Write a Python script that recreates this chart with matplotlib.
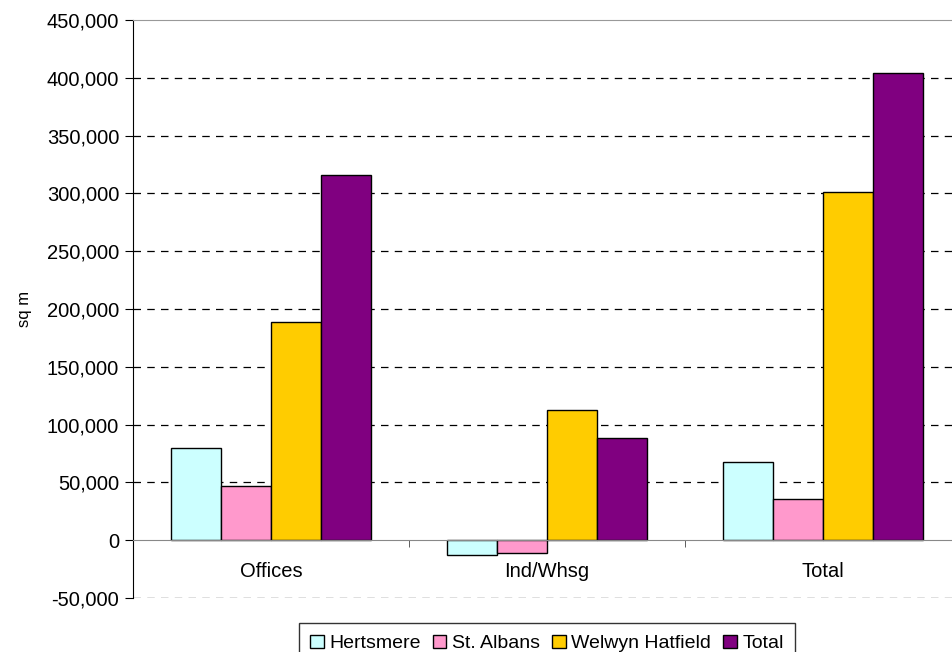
import matplotlib
matplotlib.use("Agg")
import matplotlib.pyplot as plt
import matplotlib.ticker as mticker
import numpy as np

plt.rcParams['font.family'] = ['Liberation Sans', 'DejaVu Sans']

categories = ['Offices', 'Ind/Whsg', 'Total']
series = ['Hertsmere', 'St. Albans', 'Welwyn Hatfield', 'Total']
hertsmere = [80000, -13000, 67500]
st_albans = [46500, -11000, 36000]
welwyn = [188500, 112300, 301000]
total = [315500, 88500, 404000]
colors = ['#CCFFFF', '#FF99CC', '#FFCC00', '#800080']

values = [hertsmere, st_albans, welwyn, total]

fig = plt.figure(figsize=(9.53, 6.52), dpi=100)
# plot area runs a little past the right edge of the picture
ax = fig.add_axes([133 / 953, 1 - 598 / 652, 828 / 953, 578 / 652])

x = np.arange(len(categories))
width = 0.182
for i, (vals, name, col) in enumerate(zip(values, series, colors)):
    ax.bar(x + (i - 1.5) * width, vals, width, color=col, edgecolor='black',
           linewidth=1.0, label=name, zorder=3)

ax.set_xlim(-0.5, 2.5)
ax.set_ylim(-50000, 450000)
ax.yaxis.set_major_locator(mticker.MultipleLocator(50000))
ax.yaxis.set_major_formatter(mticker.FuncFormatter(lambda v, p: '{:,.0f}'.format(v)))

# dashed gridlines, except at zero and top
for v in range(-50000, 450000, 50000):
    if v == 0:
        continue
    ax.axhline(v, color='black', linestyle=(0, (6, 5)), linewidth=0.9, zorder=1)

ax.spines['right'].set_visible(False)
ax.spines['top'].set_color('#999999')
ax.spines['left'].set_color('black')
ax.spines['bottom'].set_position(('data', 0))
ax.spines['bottom'].set_color('#888888')
ax.spines['bottom'].set_zorder(4)

ax.set_xticks(x)
ax.set_xticklabels(categories)
ax.xaxis.set_minor_locator(mticker.FixedLocator([0.5, 1.5]))
ax.tick_params(axis='x', which='major', length=0, pad=16, labelsize=14.5)
ax.tick_params(axis='x', which='minor', length=5, direction='out', color='#444444')
ax.tick_params(axis='y', length=6, direction='out', labelsize=14.5, pad=4)

ax.set_ylabel('sq m', fontsize=12)
ax.yaxis.set_label_coords(-0.122, 0.5)

leg = fig.legend(loc='upper center', bbox_to_anchor=(0.574, 1 - 623 / 652), ncol=4,
                 fontsize=14, frameon=True, fancybox=False, edgecolor='black',
                 handlelength=0.7, handleheight=0.7, handletextpad=0.3,
                 columnspacing=0.6, borderpad=0.6, borderaxespad=0)
leg.get_frame().set_linewidth(1.0)

fig.savefig('out.png', dpi=100)
